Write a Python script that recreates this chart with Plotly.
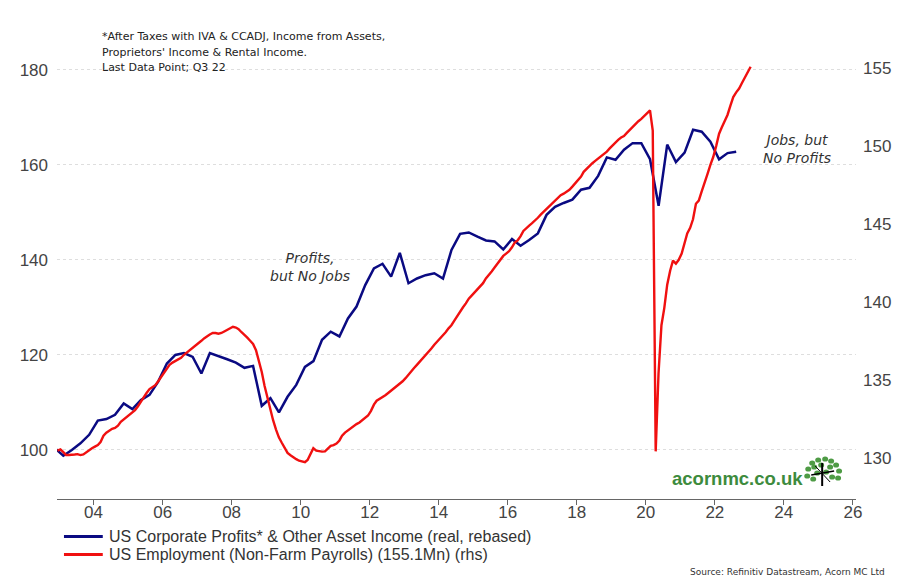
import pandas as pd
import plotly.graph_objects as go

# ---------------- data ----------------
# Blue: US corporate profits* & other asset income (real, rebased), quarterly, Q4 2002 .. Q3 2022
profits_start = "2002-10-01"
profits = [
    100.4,
    98.8, 100.0, 101.4, 103.2,     # 2003
    106.2, 106.5, 107.4, 109.8,    # 2004
    108.6, 110.5, 111.6, 114.4,    # 2005
    118.2, 120.0, 120.4, 119.6,    # 2006
    116.1, 120.4, 119.8, 119.1,    # 2007
    118.4, 117.3, 117.7, 109.3,    # 2008
    110.9, 107.9, 111.2, 113.7,    # 2009
    117.5, 118.7, 123.2, 124.9,    # 2010
    123.9, 127.7, 130.2, 134.7,    # 2011
    138.2, 139.2, 136.5, 141.5,    # 2012
    135.1, 136.1, 136.8, 137.2,    # 2013
    136.1, 142.1, 145.5, 145.8,    # 2014
    144.9, 144.1, 143.9, 142.2,    # 2015
    144.4, 143.0, 144.2, 145.6,    # 2016
    149.5, 151.2, 152.0, 152.7,    # 2017
    154.8, 155.2, 157.7, 161.6,    # 2018
    161.1, 163.2, 164.6, 164.6,    # 2019
    161.2, 151.4, 164.3, 160.6,    # 2020
    162.6, 167.4, 167.0, 164.9,    # 2021
    161.2, 162.5, 162.8,           # 2022
]

# Red: US employment (non-farm payrolls, millions), monthly, Dec 2002 .. Jan 2023
payrolls_start = "2002-12-01"
payrolls = [
    130.45,
    130.53, 130.35, 130.17, 130.17, 130.17, 130.20, 130.22, 130.16, 130.20, 130.35, 130.48, 130.60,  # 2003
    130.70, 130.80, 131.00, 131.40, 131.60, 131.75, 131.85, 131.90, 132.05, 132.30, 132.45, 132.60,  # 2004
    132.75, 132.95, 133.05, 133.30, 133.60, 133.85, 134.15, 134.40, 134.50, 134.65, 134.90, 135.15,  # 2005
    135.45, 135.70, 135.95, 136.10, 136.20, 136.30, 136.40, 136.60, 136.75, 136.85, 137.00, 137.20,  # 2006
    137.35, 137.50, 137.65, 137.80, 137.90, 138.00, 138.00, 137.95, 138.00, 138.10, 138.20, 138.30,  # 2007
    138.40, 138.35, 138.25, 138.05, 137.90, 137.70, 137.50, 137.30, 136.90, 136.20, 135.50, 134.60,  # 2008
    133.80, 133.00, 132.40, 131.80, 131.30, 130.95, 130.60, 130.30, 130.15, 130.00, 129.90, 129.80,  # 2009
    129.75, 129.70, 129.85, 130.20, 130.60, 130.45, 130.40, 130.38, 130.40, 130.60, 130.75, 130.80,  # 2010
    130.90, 131.10, 131.40, 131.60, 131.75, 131.90, 132.05, 132.15, 132.25, 132.40, 132.55, 132.70,  # 2011
    133.00, 133.40, 133.65, 133.75, 133.85, 134.00, 134.15, 134.30, 134.40, 134.55, 134.70, 134.90,  # 2012
    135.10, 135.35, 135.55, 135.75, 135.95, 136.15, 136.35, 136.55, 136.80, 137.00, 137.25, 137.45,  # 2013
    137.60, 137.80, 138.05, 138.30, 138.50, 138.80, 139.10, 139.40, 139.65, 139.90, 140.20, 140.40,  # 2014
    140.60, 140.85, 141.05, 141.20, 141.50, 141.70, 141.95, 142.20, 142.45, 142.75, 142.95, 143.10,  # 2015
    143.25, 143.50, 143.80, 143.95, 144.20, 144.55, 144.75, 144.90, 145.05, 145.20, 145.40, 145.60,  # 2016
    145.78, 146.00, 146.15, 146.30, 146.50, 146.70, 146.85, 146.95, 147.05, 147.20, 147.40, 147.60,  # 2017
    147.80, 148.05, 148.35, 148.55, 148.70, 148.90, 149.05, 149.20, 149.40, 149.50, 149.65, 149.85,  # 2018
    150.05, 150.20, 150.40, 150.55, 150.65, 150.85, 151.05, 151.20, 151.40, 151.60, 151.75, 151.95,  # 2019
    152.15, 152.30, 151.00, 130.40, 135.40, 138.50, 139.60, 141.10, 142.00, 142.65, 142.45, 142.70,  # 2020
    143.10, 143.70, 144.40, 144.75, 145.30, 146.30, 146.50, 147.10, 147.60, 148.20, 148.80, 149.30,  # 2021
    150.00, 150.80, 151.20, 151.60, 152.00, 152.60, 153.15, 153.45, 153.70, 154.05, 154.40, 154.75,  # 2022
    155.10,                                                                                            # 2023
]

left_ticks = [100, 120, 140, 160, 180]
right_ticks = [130, 135, 140, 145, 150, 155]

name_profits = "US Corporate Profits* & Other Asset Income (real, rebased)"
name_payrolls = "US Employment (Non-Farm Payrolls) (155.1Mn) (rhs)"
note_lines = [
    "*After Taxes with IVA &amp; CCADJ, Income from Assets,",
    "Proprietors' Income &amp; Rental Income.",
    "Last Data Point; Q3 22",
]
source_text = "Source: Refinitiv Datastream, Acorn MC Ltd"

# ---------------- dates ----------------
q_dates = pd.date_range(profits_start, periods=len(profits), freq="QS") + pd.Timedelta(days=45)
m_dates = pd.date_range(payrolls_start, periods=len(payrolls), freq="MS") + pd.Timedelta(days=14)

BLUE = "#0a0a82"
RED = "#f01010"

# page body has an 8px margin: figure drawn at (8, 8)
OFF = 8
W, H = 909 - OFF, 587 - OFF
L, R, T, B = 45, 53, 52, 88
PLOT_L = OFF + L                  # page x of plot left
PLOT_B = OFF + H - B              # page y of plot bottom
PW = W - L - R
PH = H - T - B


def px(x):
    return (x - PLOT_L) / PW


def py(y):
    return (PLOT_B - y) / PH


fig = go.Figure()
fig.add_trace(go.Scatter(x=m_dates, y=payrolls, mode="lines", name=name_payrolls,
                         line=dict(color=RED, width=2.4), yaxis="y2", showlegend=False))
fig.add_trace(go.Scatter(x=q_dates, y=profits, mode="lines", name=name_profits,
                         line=dict(color=BLUE, width=2.5), showlegend=False))

tickfont = dict(family="Liberation Sans", size=17, color="#444444")

fig.update_layout(
    width=W, height=H, autosize=False,
    margin=dict(l=L, r=R, t=T, b=B),
    paper_bgcolor="white", plot_bgcolor="white",
    font=dict(family="Liberation Sans"),
    xaxis=dict(type="date", range=["2002-12-10", "2026-02-03"],
               tick0="2004-01-01", dtick="M24", tickformat="%y",
               ticks="outside", ticklen=5, tickcolor="#666666",
               showline=True, linecolor="#666666", linewidth=1,
               showgrid=False, zeroline=False, tickfont=tickfont,
               ticklabelstandoff=-7),
    yaxis=dict(range=[89.68, 182.1], tickvals=left_ticks,
               showgrid=True, gridcolor="#dedede", griddash="dot", gridwidth=1,
               zeroline=False, showline=False, ticks="", tickfont=tickfont,
               ticklabelstandoff=8),
    yaxis2=dict(range=[127.34, 155.53], tickvals=right_ticks, overlaying="y", side="right",
                showgrid=False, zeroline=False, showline=False, ticks="", tickfont=tickfont,
                ticklabelstandoff=6),
)

ann = []
# in-chart comments
ann.append(dict(x="2010-04-08", y=138.5, xref="x", yref="y", showarrow=False,
                text="Profits,<br>but No Jobs", align="center",
                font=dict(family="DejaVu Sans", size=14, style="italic", color="#333333")))
ann.append(dict(x="2024-05-20", y=163.3, xref="x", yref="y", showarrow=False,
                text="Jobs, but<br>No Profits", align="center",
                font=dict(family="DejaVu Sans", size=14, style="italic", color="#333333")))
# footnote lines at top
for i, line in enumerate(note_lines):
    ann.append(dict(x=px(96), y=py(37 + i * 15.5), xref="paper", yref="paper",
                    xanchor="left", yanchor="middle", showarrow=False, text=line,
                    font=dict(family="DejaVu Sans", size=11, color="#222222")))
# legend (manual)
for i, (nm, col) in enumerate([(name_profits, BLUE), (name_payrolls, RED)]):
    yy = 536.5 + i * 18
    fig.add_shape(type="line", xref="paper", yref="paper", x0=px(60), x1=px(99),
                  y0=py(yy), y1=py(yy), line=dict(color=col, width=3))
    ann.append(dict(x=px(103), y=py(yy), xref="paper", yref="paper", xanchor="left",
                    yanchor="middle", showarrow=False, text=nm,
                    font=dict(family="Liberation Sans", size=16, color="#333333")))
# source
ann.append(dict(x=px(887), y=py(572), xref="paper", yref="paper", xanchor="right",
                yanchor="middle", showarrow=False, text=source_text,
                font=dict(family="DejaVu Sans", size=9, color="#333333")))
# logo text
ann.append(dict(x=px(805), y=py(478), xref="paper", yref="paper", xanchor="right",
                yanchor="middle", showarrow=False, text="<b>acornmc.co.uk</b>",
                font=dict(family="Liberation Sans", size=18.5, color="#3d8b3d")))
fig.update_layout(annotations=ann)

# logo tree (decoration)
leaves = [(812, 463), (818, 460), (825, 459), (831, 461), (836, 465), (808, 469), (814, 467),
          (830, 467), (839, 471), (807, 476), (813, 479), (832, 477), (838, 478), (826, 472),
          (817, 473), (821, 465)]
for (lx, ly) in leaves:
    fig.add_shape(type="circle", xref="paper", yref="paper",
                  x0=px(lx - 3), x1=px(lx + 3), y0=py(ly + 2.6), y1=py(ly - 2.6),
                  fillcolor="#4e9b45", line=dict(width=0))
fig.add_shape(type="line", xref="paper", yref="paper", x0=px(822), x1=px(822),
              y0=py(463), y1=py(486), line=dict(color="black", width=2))
fig.add_shape(type="line", xref="paper", yref="paper", x0=px(811), x1=px(834),
              y0=py(475), y1=py(471), line=dict(color="black", width=1.5))
fig.add_shape(type="line", xref="paper", yref="paper", x0=px(815), x1=px(830),
              y0=py(466), y1=py(482), line=dict(color="black", width=1))

fig.write_html("out.html")
